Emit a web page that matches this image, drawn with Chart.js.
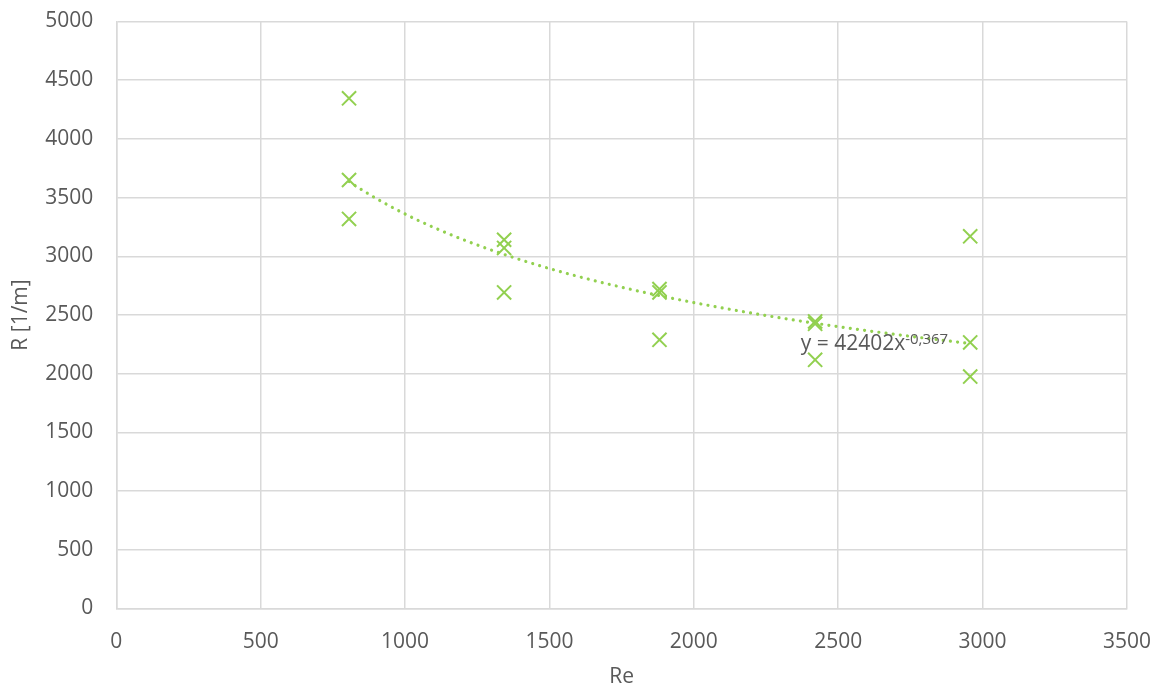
<!DOCTYPE html>
<html lang="en">
<head>
    <meta charset="UTF-8">
    <title>R vs Re</title>
    <script src="https://cdn.jsdelivr.net/npm/chart.js"></script>
    <style>
        html, body { margin: 0; padding: 0; background: #ffffff; }
        #wrap { width: 1154px; height: 688px; }
    </style>
</head>
<body>
    <div id="wrap"><canvas id="reChart" width="1154" height="688"></canvas></div>

    <script>
        // measured points (Re, R)
        const reValues = [806, 806, 806, 1343, 1343, 1343, 1881, 1881, 1881, 2420, 2420, 2420, 2957, 2957, 2957];
        const rValues = [4346, 3650, 3318, 3141, 3071, 2692, 2721, 2692, 2289, 2445, 2425, 2118, 3170, 2266, 1976];

        // power trendline y = a * x^b
        const trendA = 42402;
        const trendB = -0.367;
        const trendLabel = "y = 42402x";
        const trendExpLabel = "-0,367";

        const xTicks = [0, 500, 1000, 1500, 2000, 2500, 3000, 3500];
        const yTicks = [0, 500, 1000, 1500, 2000, 2500, 3000, 3500, 4000, 4500, 5000];

        const green = "#92d050";
        const textColor = "#595959";
        const gridColor = "#d9d9d9";
        const fontFamily = "'Open Sans', Lato, sans-serif";

        let points = reValues.map((x, i) => ({ x: x, y: rValues[i] }));

        // curve between smallest and largest Re
        let minRe = Math.min(...reValues);
        let maxRe = Math.max(...reValues);
        let trend = [];
        for (let i = 0; i <= 80; i++) {
            let x = minRe + (maxRe - minRe) * i / 80;
            trend.push({ x: x, y: trendA * Math.pow(x, trendB) });
        }

        // equation text with superscript exponent
        const equationPlugin = {
            id: "equation",
            afterDatasetsDraw(chart) {
                let ctx = chart.ctx;
                let xs = chart.scales.x;
                let ys = chart.scales.y;
                let px = xs.getPixelForValue(2370);
                let py = ys.getPixelForValue(2204);
                ctx.save();
                ctx.fillStyle = textColor;
                ctx.textBaseline = "alphabetic";
                ctx.textAlign = "left";
                ctx.font = "21px " + fontFamily;
                ctx.fillText(trendLabel, px, py);
                let w = ctx.measureText(trendLabel).width;
                ctx.font = "15px " + fontFamily;
                ctx.fillText(trendExpLabel, px + w, py - 6);
                ctx.restore();
            }
        };

        let ctx = document.getElementById("reChart").getContext("2d");
        let reChart = new Chart(ctx, {
            type: "scatter",
            data: {
                datasets: [
                    {
                        label: "R",
                        data: points,
                        pointStyle: "crossRot",
                        pointRadius: 10,
                        pointBorderWidth: 2,
                        borderColor: green,
                        backgroundColor: green,
                        showLine: false,
                        order: 1
                    },
                    {
                        label: "Trend",
                        data: trend,
                        showLine: true,
                        pointRadius: 0,
                        borderColor: green,
                        borderWidth: 3.2,
                        borderDash: [0.01, 7.2],
                        borderCapStyle: "round",
                        tension: 0,
                        order: 2
                    }
                ]
            },
            options: {
                responsive: false,
                animation: false,
                layout: { padding: { top: 21.5, right: 27, bottom: 0, left: 0 } },
                plugins: {
                    legend: { display: false },
                    tooltip: { enabled: false }
                },
                scales: {
                    x: {
                        type: "linear",
                        min: 0,
                        max: 3500,
                        afterBuildTicks: (scale) => { scale.ticks = xTicks.map(v => ({ value: v })); },
                        afterFit: (scale) => {
                            scale.height = 79.5;
                            scale.paddingLeft = 0;
                            scale.paddingRight = 0;
                        },
                        grid: { color: gridColor, lineWidth: 1.5, drawTicks: false },
                        border: { color: gridColor, width: 1.5 },
                        ticks: {
                            color: textColor,
                            padding: 21,
                            font: { family: fontFamily, size: 21 },
                            callback: (v) => String(v)
                        },
                        title: {
                            display: true,
                            text: "Re",
                            color: textColor,
                            padding: 0,
                            font: { family: fontFamily, size: 21, lineHeight: 1 }
                        }
                    },
                    y: {
                        type: "linear",
                        min: 0,
                        max: 5000,
                        afterBuildTicks: (scale) => { scale.ticks = yTicks.map(v => ({ value: v })); },
                        afterFit: (scale) => {
                            scale.width = 116.3;
                            scale.paddingTop = 0;
                            scale.paddingBottom = 0;
                        },
                        grid: { color: gridColor, lineWidth: 1.5, drawTicks: false },
                        border: { color: gridColor, width: 1.5 },
                        ticks: {
                            color: textColor,
                            padding: 23,
                            font: { family: fontFamily, size: 21 },
                            callback: (v) => String(v)
                        },
                        title: {
                            display: true,
                            text: "R [1/m]",
                            color: textColor,
                            padding: { top: 11, bottom: 0 },
                            font: { family: fontFamily, size: 21, lineHeight: 1 }
                        }
                    }
                }
            },
            plugins: [equationPlugin]
        });
    </script>
</body>
</html>
